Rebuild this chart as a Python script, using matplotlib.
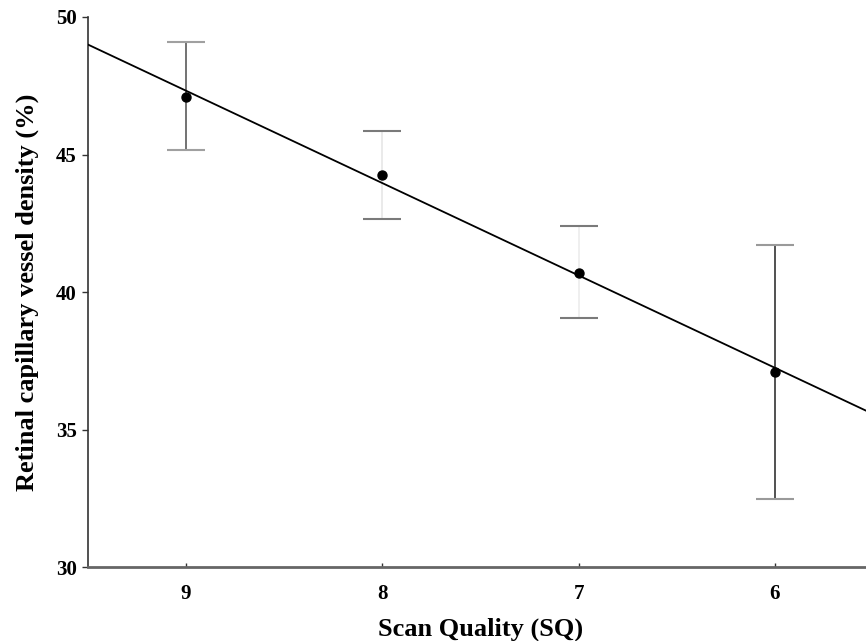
"""Retinal capillary vessel density vs. OCTA scan quality (mean with error bars + linear fit)."""

import matplotlib as mpl
import matplotlib.pyplot as plt
import numpy as np

mpl.rcParams.update(
    {
        "font.family": "serif",
        "font.serif": ["Liberation Serif", "DejaVu Serif"],
        "font.weight": "bold",
        "axes.labelweight": "bold",
    }
)

# --- data ---
scan_quality = [9, 8, 7, 6]
density_mean = [47.1, 44.25, 40.7, 37.1]
err_upper = [49.1, 45.85, 42.4, 41.7]
err_lower = [45.15, 42.65, 39.05, 32.5]

x_ticks = [9, 8, 7, 6]
y_ticks = [30, 35, 40, 45, 50]

# whisker/cap greys differ per group in the original export
STEM_COLORS = ["#5a5a5a", "#e6e6e6", "#ececec", "#333333"]
CAP_COLORS = ["#a0a0a0", "#7a7a7a", "#7a7a7a", "#9a9a9a"]

fig = plt.figure(figsize=(8.66, 6.41), dpi=100, facecolor="white")
ax = fig.add_axes([0.1016, 0.1147, 0.9065, 0.8588])

x = np.array(scan_quality, dtype=float)
y = np.array(density_mean)
yerr_lo = y - np.array(err_lower)
yerr_hi = np.array(err_upper) - y

for i in range(len(x)):
    _, caps, bars = ax.errorbar(
        x[i], y[i],
        yerr=[[yerr_lo[i]], [yerr_hi[i]]],
        fmt="none", ecolor=STEM_COLORS[i], elinewidth=1.2,
        capsize=14, capthick=1.5, zorder=2,
    )
    for c in caps:
        c.set_markeredgecolor(CAP_COLORS[i])
        c.set_color(CAP_COLORS[i])

# linear fit through group means
slope, intercept = np.polyfit(x, y, 1)
xx = np.array([9.5, 5.5])
ax.plot(xx, slope * xx + intercept, color="black", lw=1.3, zorder=3)

ax.scatter(x, y, s=42, color="black", zorder=4)

ax.set_xlim(9.5, 5.5)
ax.set_ylim(30, 50)
ax.set_xticks(x_ticks)
ax.set_yticks(y_ticks)
ax.set_xticklabels([str(t) for t in x_ticks])
ax.set_yticklabels([str(t) for t in y_ticks])

for side in ("top", "right"):
    ax.spines[side].set_visible(False)
ax.spines["left"].set_color("#333333")
ax.spines["bottom"].set_color("#666666")
ax.spines["left"].set_linewidth(1.2)
ax.spines["bottom"].set_linewidth(2.0)

ax.tick_params(axis="x", direction="in", length=3, width=1, color="#333333",
               labelsize=15, pad=12)
ax.tick_params(axis="y", direction="out", length=4, width=1, color="#333333",
               labelsize=15, pad=4)

ax.set_xlabel("Scan Quality (SQ)", fontsize=19, labelpad=10)
ax.set_ylabel("Retinal capillary vessel density (%)", fontsize=19, labelpad=12)

fig.savefig("out.png", dpi=100, facecolor="white")
